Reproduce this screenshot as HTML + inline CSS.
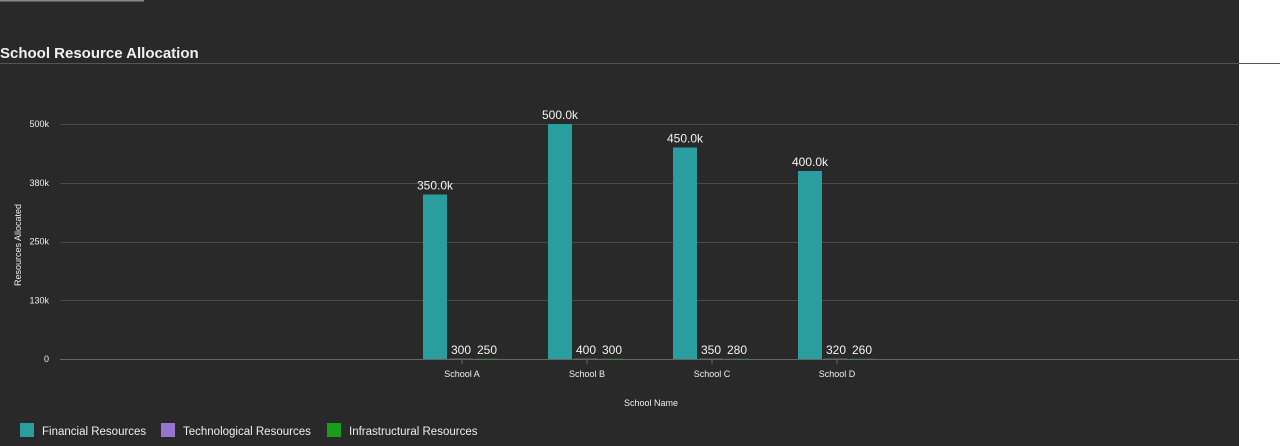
<!DOCTYPE html>
<html><head><meta charset="utf-8"><style>
body{margin:0;width:1280px;height:446px;background:#fff;overflow:hidden;font-family:"Liberation Sans",sans-serif}
#wrap{position:absolute;left:0;top:0;width:1239px;height:446px;background:#292929}
</style></head><body>
<div id="wrap"></div>
<svg id="c" width="1280" height="446" style="position:absolute;left:0;top:0">
<line x1="0" y1="0.5" x2="144" y2="0.5" stroke="#888" stroke-width="2"/>
<text x="0" y="58" fill="#f0f0f0" font-size="15" font-weight="bold">School Resource Allocation</text>
<line x1="0" y1="63.5" x2="1280" y2="63.5" stroke="#555"/>
<g id="grid"></g><g id="bars"></g>
<text x="21" y="245" fill="#eee" font-size="9" text-anchor="middle" transform="rotate(-90 21 245)">Resources Allocated</text>
<text x="651" y="406" fill="#eee" font-size="9" text-anchor="middle">School Name</text>
<g>
<rect x="20" y="423" width="14" height="14" fill="#2a9d9f"/>
<text x="42" y="435" fill="#eee" font-size="11.5">Financial Resources</text>
<rect x="161" y="423" width="14" height="14" fill="#9575cd"/>
<text x="183" y="435" fill="#eee" font-size="11.5">Technological Resources</text>
<rect x="327" y="423" width="14" height="14" fill="#1a9e1a"/>
<text x="349" y="435" fill="#eee" font-size="11.5">Infrastructural Resources</text>
</g>
</svg>
<script>
const categories=["School A","School B","School C","School D"];
const financial=[350000,500000,450000,400000];
const technological=[300,400,350,320];
const infrastructural=[250,300,280,260];
const yTicks=[0,125000,250000,375000,500000];
const yTickLabels=["0","130k","250k","380k","500k"];
const NS="http://www.w3.org/2000/svg";
const y=v=>359-v/500000*235;
const x=i=>462+i*125;
function mk(t,a,p){const e=document.createElementNS(NS,t);for(const k in a)e.setAttribute(k,a[k]);p.appendChild(e);return e;}
const g=document.getElementById('grid'),b=document.getElementById('bars');
yTicks.forEach((v,i)=>{
 const l=mk('line',{x1:60,x2:1239,y1:Math.round(y(v))+0.5,y2:Math.round(y(v))+0.5,stroke:i==0?'#666':'#4a4a4a'},g);
 
 
 const t=mk('text',{x:49,y:y(v)+3,fill:'#eee','font-size':9,'text-anchor':'end'},g);t.textContent=yTickLabels[i];
 
 
});
const series=[[financial,'#2a9d9f'],[technological,'#9575cd'],[infrastructural,'#1a9e1a']];
const fmt=v=>v>=1000?(v/1000).toFixed(1)+'k':String(v);
categories.forEach((c,i)=>{
 const tk=mk('line',{x1:x(i),x2:x(i),y1:359,y2:364,stroke:'#666'},g);
 
 
 const t=mk('text',{x:x(i),y:377,fill:'#eee','font-size':9,'text-anchor':'middle'},g);t.textContent=c;
 
 
 series.forEach(([d,col],s)=>{
  const bx=x(i)-13+(s-1)*26;
  const h=Math.max(359-y(d[i]),0.3);
  const r=mk('rect',{x:bx,y:359-h,width:24,height:h,fill:col},b);
  
  
  const lt=mk('text',{x:bx+12,y:Math.min(y(d[i])-5,354),fill:'#f4f4f4','font-size':12,'text-anchor':'middle'},b);lt.textContent=fmt(d[i]);
  
  
 });
});
</script>
</body></html>
